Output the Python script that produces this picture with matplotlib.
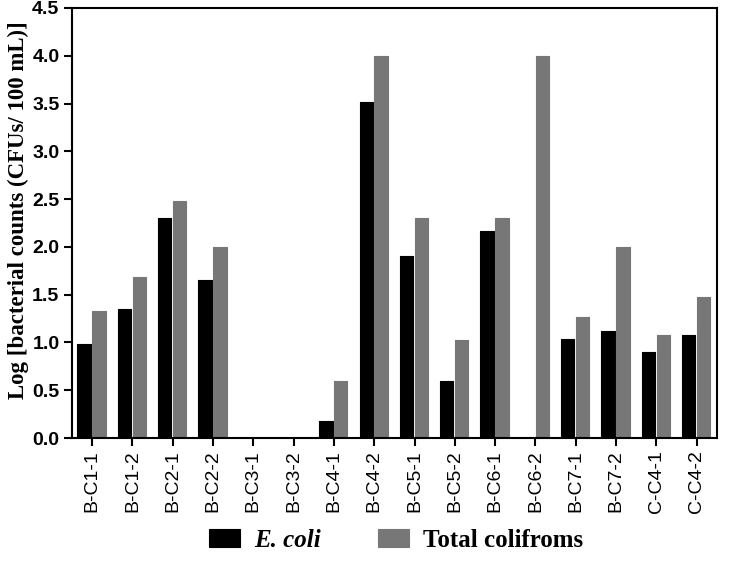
import numpy as np
import matplotlib.pyplot as plt

# sample sites
sites = ['B-C1-1', 'B-C1-2', 'B-C2-1', 'B-C2-2', 'B-C3-1', 'B-C3-2', 'B-C4-1', 'B-C4-2',
         'B-C5-1', 'B-C5-2', 'B-C6-1', 'B-C6-2', 'B-C7-1', 'B-C7-2', 'C-C4-1', 'C-C4-2']

# log counts
ecoli = [0.98, 1.35, 2.30, 1.65, 0.0, 0.0, 0.18, 3.52,
         1.90, 0.60, 2.17, 0.0, 1.04, 1.12, 0.90, 1.08]
total_coliforms = [1.33, 1.68, 2.48, 2.00, 0.0, 0.0, 0.60, 4.00,
                   2.30, 1.03, 2.30, 4.00, 1.27, 2.00, 1.08, 1.48]

yticks = [0.0, 0.5, 1.0, 1.5, 2.0, 2.5, 3.0, 3.5, 4.0, 4.5]

fig = plt.figure(figsize=(7.56, 5.66), dpi=100)
ax = fig.add_axes([0.0952, 0.226, 0.853, 0.760])

x = np.arange(len(sites))
w = 0.33
ax.bar(x - 0.2, ecoli, width=w, color='black', edgecolor='black', linewidth=0.8,
       joinstyle='round', label='E. coli')
ax.bar(x + 0.17, total_coliforms, width=w, color='#777777', edgecolor='#777777', linewidth=0.8,
       joinstyle='round', label='Total colifroms')

ax.set_xlim(-0.5, len(sites) - 0.5)
ax.set_ylim(0, 4.5)
ax.set_yticks(yticks)
ax.set_yticklabels([f'{v:.1f}' for v in yticks], fontfamily='Liberation Sans',
                   fontweight='bold', fontsize=14)
ax.set_xticks(x)
ax.set_xticklabels(sites, rotation=90, fontfamily='Liberation Sans', fontsize=14)

ax.tick_params(axis='both', direction='out', length=6, width=1.5, color='black', pad=3)
for s in ax.spines.values():
    s.set_linewidth(1.5)

ax.set_ylabel('Log [bacterial counts (CFUs/ 100 mL)]', fontfamily='Liberation Serif',
              fontweight='bold', fontsize=16.5)
ax.yaxis.set_label_coords(-0.067, 0.53)

handles, labels = ax.get_legend_handles_labels()
leg = fig.legend(handles, labels, loc='center', bbox_to_anchor=(0.524, 0.045), ncol=2,
                 frameon=False, handlelength=1.25, handleheight=0.75, handletextpad=0.55,
                 columnspacing=2.3, prop={'family': 'Liberation Serif', 'weight': 'bold', 'size': 18})
leg.get_texts()[0].set_fontstyle('italic')

plt.savefig('out.png', dpi=100)
